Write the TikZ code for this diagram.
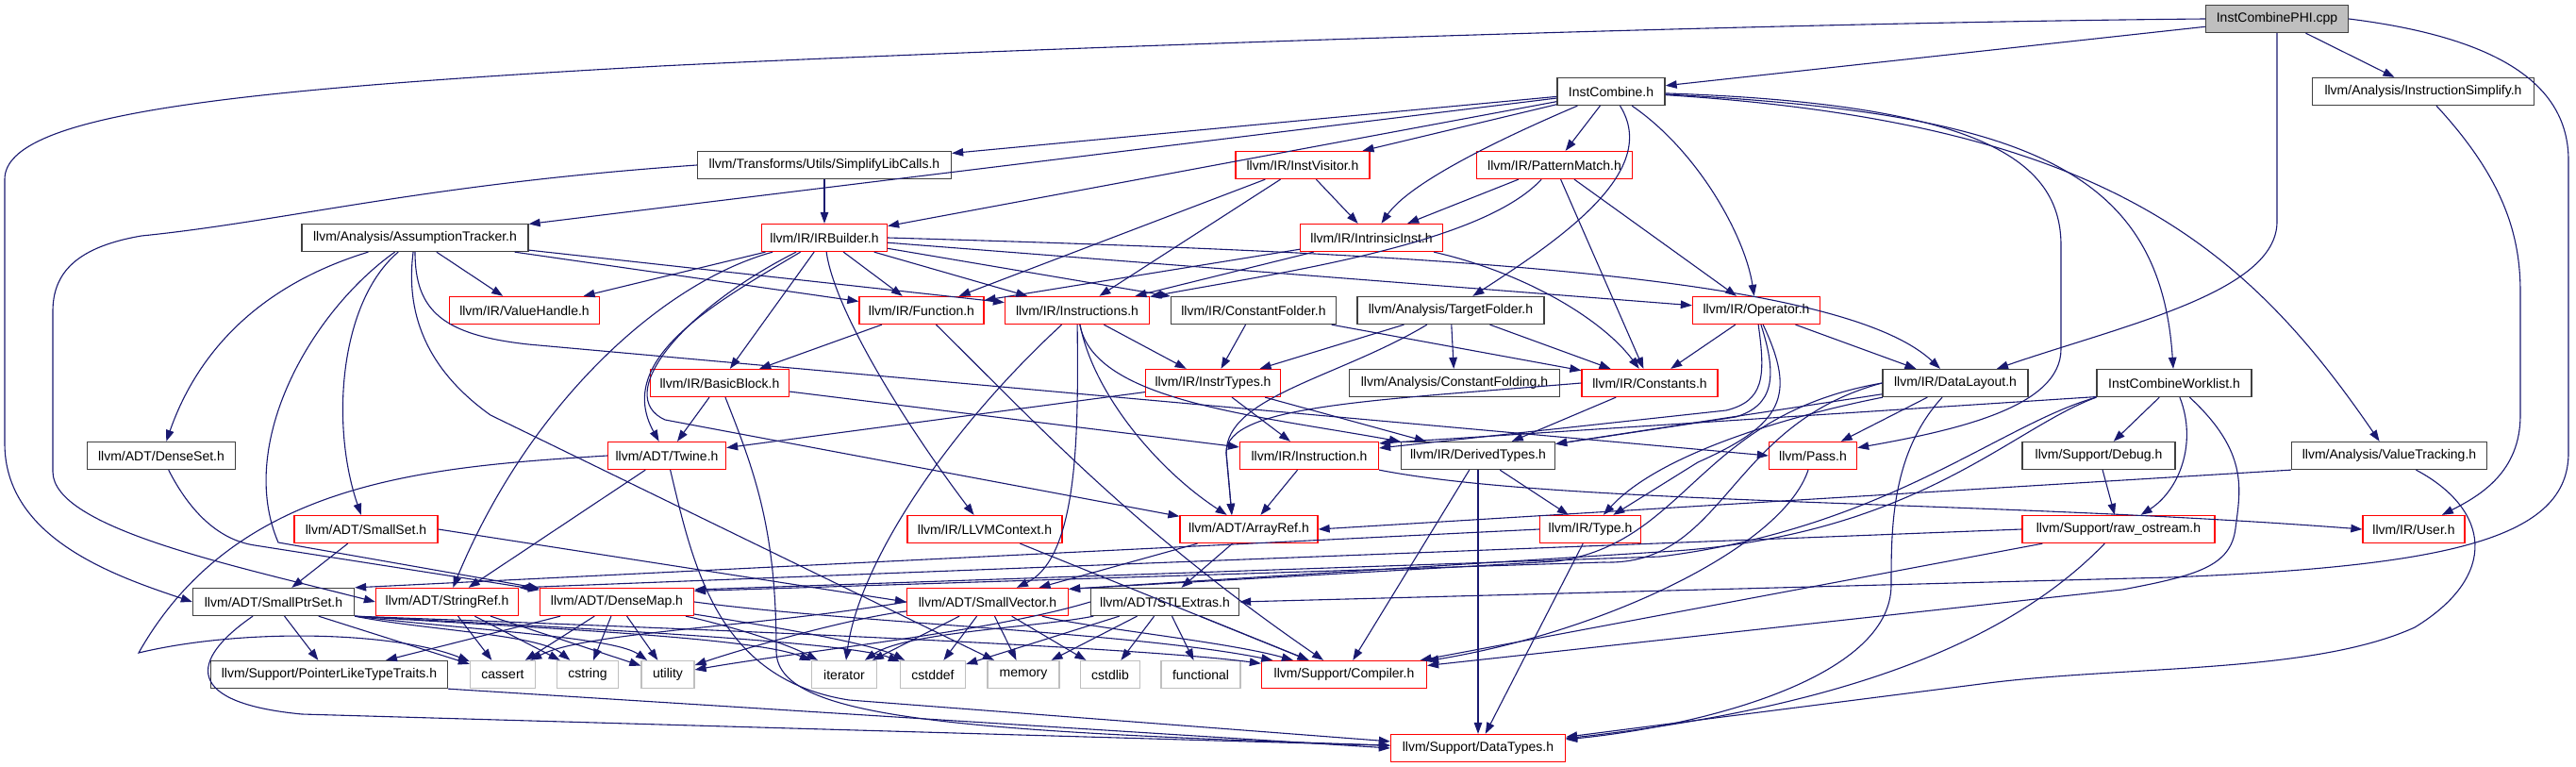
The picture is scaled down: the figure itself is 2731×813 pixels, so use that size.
\documentclass[tikz,border=0pt]{standalone}
\usepackage{fontspec}
\setmainfont{Liberation Sans}
\usetikzlibrary{arrows.meta}
\definecolor{edgec}{HTML}{191970}
\definecolor{bk}{HTML}{404040}
\definecolor{gr}{HTML}{BFBFBF}
\newcommand\mynode[6]{\node[#1,minimum width=#2] (#3) at (#4,#5) {#6};}
\begin{document}
\begin{tikzpicture}[x=1pt,y=-1pt,
  box/.style={draw, fill=white, line width=1.3pt, minimum height=29pt, inner sep=0pt, font=\fontsize{14}{16}\selectfont},
  bx/.style={box, draw=bk},
  rx/.style={box, draw=red},
  gx/.style={box, draw=gr},
  rootx/.style={box, draw=bk, fill=gr},
  e/.style={draw=edgec, line width=1.1pt, -{Triangle[length=12pt,width=8.5pt]}}]
\useasboundingbox (0,0) rectangle (2731,813);
% nodes
\mynode{rootx}{151}{root}{2414}{20}{InstCombinePHI.cpp}
\mynode{bx}{114}{ic}{1708}{97}{InstCombine.h}
\mynode{bx}{235}{isimp}{2569}{97}{llvm/Analysis/InstructionSimplify.h}
\mynode{bx}{269}{slc}{874}{175}{llvm/Transforms/Utils/SimplifyLibCalls.h}
\mynode{rx}{142}{iv}{1381}{175}{llvm/IR/InstVisitor.h}
\mynode{rx}{165}{pm}{1648}{175}{llvm/IR/PatternMatch.h}
\mynode{bx}{240}{at}{440}{252}{llvm/Analysis/AssumptionTracker.h}
\mynode{rx}{133}{irb}{874}{252}{llvm/IR/IRBuilder.h}
\mynode{rx}{151}{ii}{1454}{252}{llvm/IR/IntrinsicInst.h}
\mynode{rx}{159}{vh}{556}{329}{llvm/IR/ValueHandle.h}
\mynode{rx}{132}{fn}{977}{329}{llvm/IR/Function.h}
\mynode{rx}{153}{ins}{1142}{329}{llvm/IR/Instructions.h}
\mynode{bx}{175}{cf}{1329}{329}{llvm/IR/ConstantFolder.h}
\mynode{bx}{198}{tf}{1538}{329}{llvm/Analysis/TargetFolder.h}
\mynode{rx}{135}{op}{1862}{329}{llvm/IR/Operator.h}
\mynode{rx}{147}{bb}{763}{406}{llvm/IR/BasicBlock.h}
\mynode{rx}{143}{it}{1286}{406}{llvm/IR/InstrTypes.h}
\mynode{bx}{223}{cfd}{1542}{406}{llvm/Analysis/ConstantFolding.h}
\mynode{rx}{144}{cs}{1749}{406}{llvm/IR/Constants.h}
\mynode{bx}{154}{dl}{2073}{406}{llvm/IR/DataLayout.h}
\mynode{bx}{164}{wl}{2305}{406}{InstCombineWorklist.h}
\mynode{bx}{157}{ds}{171}{483}{llvm/ADT/DenseSet.h}
\mynode{rx}{125}{tw}{707}{483}{llvm/ADT/Twine.h}
\mynode{rx}{147}{inst}{1388}{483}{llvm/IR/Instruction.h}
\mynode{bx}{163}{dt}{1567}{483}{llvm/IR/DerivedTypes.h}
\mynode{rx}{93}{pass}{1922}{483}{llvm/Pass.h}
\mynode{bx}{162}{dbg}{2225}{483}{llvm/Support/Debug.h}
\mynode{bx}{207}{vt}{2533}{483}{llvm/Analysis/ValueTracking.h}
\mynode{rx}{152}{ss}{388}{561}{llvm/ADT/SmallSet.h}
\mynode{rx}{164}{ctx}{1044}{561}{llvm/IR/LLVMContext.h}
\mynode{rx}{146}{ar}{1324}{561}{llvm/ADT/ArrayRef.h}
\mynode{rx}{107}{ty}{1686}{561}{llvm/IR/Type.h}
\mynode{rx}{204}{ro}{2246}{561}{llvm/Support/raw\_ostream.h}
\mynode{rx}{108}{us}{2559}{561}{llvm/IR/User.h}
\mynode{bx}{171}{sps}{290}{638}{llvm/ADT/SmallPtrSet.h}
\mynode{rx}{151}{sr}{474}{638}{llvm/ADT/StringRef.h}
\mynode{rx}{163}{dm}{654}{638}{llvm/ADT/DenseMap.h}
\mynode{rx}{171}{sv}{1047}{638}{llvm/ADT/SmallVector.h}
\mynode{bx}{157}{stl}{1235}{638}{llvm/ADT/STLExtras.h}
\mynode{bx}{251}{pl}{349}{715}{llvm/Support/PointerLikeTypeTraits.h}
\mynode{gx}{69}{ca}{533}{715}{cassert}
\mynode{gx}{65}{cst}{623}{715}{cstring}
\mynode{gx}{56}{ut}{708}{715}{utility}
\mynode{gx}{69}{itr}{895}{715}{iterator}
\mynode{gx}{69}{cdd}{989}{715}{cstddef}
\mynode{gx}{76}{mem}{1085}{715}{memory}
\mynode{gx}{63}{cdl}{1177}{715}{cstdlib}
\mynode{gx}{84}{fnl}{1273}{715}{functional}
\mynode{rx}{175}{cmp}{1425}{715}{llvm/Support/Compiler.h}
\mynode{rx}{185}{dty}{1567}{793}{llvm/Support/DataTypes.h}
% root
\draw[e] (root) -- (ic);
\draw[e] (root) -- (isimp);
\draw[e] (root.west) .. controls (1800,25) and (1000,55) .. (700,70) .. controls (250,95) and (5,120) .. (5,190) -- (5,470) .. controls (5,570) and (120,610) .. (sps.west);
\draw[e] (root.east) .. controls (2650,40) and (2723,90) .. (2723,170) -- (2723,480) .. controls (2723,570) and (2600,600) .. (2300,612) -- (stl.east);
\draw[e] (root.south) -- (2414,235) .. controls (2414,310) and (2250,345) .. (dl);
% InstCombine.h
\draw[e] (ic) -- (slc);
\draw[e] (ic) -- (at);
\draw[e] (ic) -- (irb);
\draw[e] (ic) -- (iv);
\draw[e] (ic) .. controls (1560,160) and (1490,200) .. (ii);
\draw[e] (ic) -- (pm);
\draw[e] (ic) .. controls (1760,180) and (1660,250) .. (tf);
\draw[e] (ic) .. controls (1800,160) and (1850,250) .. (op);
\draw[e] (ic) .. controls (2150,120) and (2290,180) .. (wl);
\draw[e] (ic) .. controls (2230,130) and (2380,260) .. (vt);
\draw[e] (ic) .. controls (2100,110) and (2185,170) .. (2185,260) -- (2185,370) .. controls (2185,430) and (2080,455) .. (pass);
% InstructionSimplify
\draw[e] (isimp) .. controls (2655,190) and (2672,250) .. (2672,310) -- (2672,440) .. controls (2672,500) and (2630,525) .. (us);
% SimplifyLibCalls
\draw[e] (slc) -- (irb);
\draw[e] (slc.west) .. controls (450,195) and (300,235) .. (150,250) .. controls (80,262) and (56,290) .. (56,330) -- (56,500) .. controls (56,560) and (250,600) .. (sr.west);
% AssumptionTracker
\draw[e] (at) .. controls (250,310) and (200,400) .. (ds);
\draw[e] (at) .. controls (360,320) and (350,450) .. (ss);
\draw[e] (at) .. controls (330,330) and (250,470) .. (295,575) -- (dm);
\draw[e] (at) -- (vh);
\draw[e] (at) .. controls (440,330) and (470,355) .. (560,365) -- (pass.west);
\draw[e] (at) .. controls (430,330) and (450,390) .. (520,440) -- (mem);
\draw[e] (at) -- (fn);
\draw[e] (at) -- (ins);
% DenseSet
\draw[e] (ds) .. controls (200,540) and (230,572) .. (270,578) -- (dm);
% IRBuilder
\draw[e] (irb) -- (vh);
\draw[e] (irb) -- (fn);
\draw[e] (irb) -- (ins);
\draw[e] (irb) -- (bb);
\draw[e] (irb) -- (cf);
\draw[e] (irb) -- (op);
\draw[e] (irb.east) .. controls (1500,268) and (1950,290) .. (dl);
\draw[e] (irb) .. controls (760,320) and (650,380) .. (tw);
\draw[e] (irb) .. controls (700,300) and (560,430) .. (sr);
\draw[e] (irb) .. controls (720,330) and (650,420) .. (705,445) -- (ar);
\draw[e] (irb) .. controls (885,330) and (960,450) .. (ctx);
% Function
\draw[e] (fn) -- (bb);
\draw[e] (fn) .. controls (1100,450) and (1200,560) .. (cmp);
% Instructions
\draw[e] (ins) -- (it);
\draw[e] (ins) .. controls (1160,425) and (1330,440) .. (dt);
\draw[e] (ins) .. controls (1160,420) and (1230,500) .. (ar);
\draw[e] (ins) .. controls (1143,450) and (1145,590) .. (sv);
\draw[e] (ins) .. controls (1000,460) and (910,600) .. (itr);
% InstVisitor
\draw[e] (iv) -- (ii);
\draw[e] (iv) -- (fn);
\draw[e] (iv) -- (ins);
% PatternMatch
\draw[e] (pm) -- (ii);
\draw[e] (pm) .. controls (1570,260) and (1350,290) .. (ins);
\draw[e] (pm) -- (cs);
\draw[e] (pm) -- (op);
% IntrinsicInst
\draw[e] (ii) -- (fn);
\draw[e] (ii) -- (ins);
\draw[e] (ii) .. controls (1620,290) and (1700,340) .. (cs);
% ConstantFolder
\draw[e] (cf) -- (it);
\draw[e] (cf) -- (cs);
% TargetFolder
\draw[e] (tf) -- (cfd);
\draw[e] (tf) -- (cs);
\draw[e] (tf) -- (it);
\draw[e] (tf) .. controls (1420,400) and (1300,420) .. (1300,480) -- (ar.140);
% Operator
\draw[e] (op) -- (cs);
\draw[e] (op) -- (dl);
\draw[e] (op) .. controls (1872,400) and (1870,425) .. (1830,435) -- (inst);
\draw[e] (op) .. controls (1885,400) and (1880,430) .. (1840,442) -- (dt);
\draw[e] (op) .. controls (1905,420) and (1890,450) .. (1800,490) -- (ty);
% BasicBlock
\draw[e] (bb) -- (tw);
\draw[e] (bb) -- (inst);
\draw[e] (bb) .. controls (800,500) and (823,560) .. (823,690) .. controls (823,760) and (1000,775) .. (dty);
% InstrTypes
\draw[e] (it) -- (tw);
\draw[e] (it) -- (inst);
\draw[e] (it) -- (dt);
% Constants
\draw[e] (cs) -- (dt);
\draw[e] (cs.west) .. controls (1450,425) and (1300,430) .. (1300,480) -- (ar.140);
% DataLayout
\draw[e] (dl) -- (dt);
\draw[e] (dl) -- (pass);
\draw[e] (dl) .. controls (1900,440) and (1760,480) .. (ty);
\draw[e] (dl) .. controls (2005,480) and (2005,560) .. (2005,620) .. controls (2005,720) and (1800,770) .. (dty);
\draw[e] (dl.west) .. controls (1800,440) and (1790,575) .. (1650,595) -- (sv.9);
\draw[e] (dl.west) .. controls (1830,450) and (1830,600) .. (1700,596) -- (dm.8);
% Worklist
\draw[e] (wl.190) -- (inst.10);
\draw[e] (wl) -- (dbg);
\draw[e] (wl) .. controls (2330,470) and (2310,520) .. (ro);
\draw[e] (wl) .. controls (2385,480) and (2375,520) .. (2370,560) .. controls (2365,600) and (2330,610) .. (2250,625) -- (cmp);
\draw[e] (wl.south west) .. controls (2120,450) and (2000,560) .. (1760,590) -- (dm.9);
\draw[e] (wl.south west) .. controls (2130,455) and (2030,570) .. (1760,585) -- (sv.9);
% Debug
\draw[e] (dbg) -- (ro);
% ValueTracking
\draw[e] (vt.south west) -- (ar.east);
\draw[e] (vt) .. controls (2640,540) and (2650,610) .. (2560,665) .. controls (2450,715) and (2250,705) .. (2100,725) -- (dty);
% raw_ostream
\draw[e] (ro) -- (cmp);
\draw[e] (ro) .. controls (2150,660) and (2000,745) .. (dty);
\draw[e] (ro.west) -- (sr.north east);
% Twine
\draw[e] (tw) -- (sr);
\draw[e] (tw.west) .. controls (450,495) and (250,510) .. (147,692) .. controls (260,665) and (420,670) .. (ca);
\draw[e] (tw) .. controls (735,600) and (760,720) .. (900,742) -- (dty);
% DerivedTypes
\draw[e] (dt) -- (ty);
\draw[e] (dt) -- (dty);
\draw[e] (dt) -- (cmp);
% Type
\draw[e] (ty) -- (dty);
\draw[e] (ty.west) -- (sps.north east);
% Pass
\draw[e] (pass) .. controls (1890,580) and (1700,670) .. (cmp);
% LLVMContext
\draw[e] (ctx) -- (cmp);
% ArrayRef
\draw[e] (ar) -- (sv);
\draw[e] (ar) -- (stl);
% Instruction
\draw[e] (inst) -- (ar);
\draw[e] (inst.south east) .. controls (1650,535) and (2100,530) .. (us.west);
% SmallSet
\draw[e] (ss) -- (sps);
\draw[e] (ss.east) -- (sv.west);
% SmallPtrSet
\draw[e] (sps) -- (pl);
\draw[e] (sps) -- (ca);
\draw[e] (sps.south east) .. controls (450,668) and (570,672) .. (cst);
\draw[e] (sps.south east) .. controls (500,668) and (650,675) .. (ut);
\draw[e] (sps.south east) .. controls (550,665) and (800,675) .. (itr);
\draw[e] (sps.south east) .. controls (600,665) and (900,680) .. (cdd);
\draw[e] (sps.south east) .. controls (700,665) and (1200,685) .. (cmp);
\draw[e] (sps) .. controls (200,700) and (195,745) .. (320,757) -- (dty);
% StringRef
\draw[e] (sr) -- (ca);
\draw[e] (sr) -- (cst);
\draw[e] (sr) -- (ut);
% DenseMap
\draw[e] (dm) -- (pl);
\draw[e] (dm) -- (ca);
\draw[e] (dm) -- (cst);
\draw[e] (dm) -- (ut);
\draw[e] (dm) .. controls (760,660) and (830,680) .. (itr);
\draw[e] (dm) .. controls (780,658) and (920,680) .. (cdd);
\draw[e] (dm.east) .. controls (900,660) and (1200,670) .. (cmp);
% SmallVector
\draw[e] (sv.west) .. controls (800,665) and (620,670) .. (ca);
\draw[e] (sv) .. controls (900,655) and (780,690) .. (ut);
\draw[e] (sv) -- (itr);
\draw[e] (sv) -- (cdd);
\draw[e] (sv) -- (mem);
\draw[e] (sv) -- (cdl);
\draw[e] (sv) .. controls (1150,665) and (1300,680) .. (cmp);
% STLExtras
\draw[e] (stl) -- (cdd);
\draw[e] (stl) -- (mem);
\draw[e] (stl) -- (cdl);
\draw[e] (stl) -- (fnl);
\draw[e] (stl) .. controls (1100,665) and (960,670) .. (itr);
\draw[e] (stl.west) .. controls (1050,670) and (850,690) .. (ut);
\draw[e] (stl) -- (cmp);
% PointerLikeTypeTraits
\draw[e] (pl.south east) -- (dty.west);
\end{tikzpicture}
\end{document}
